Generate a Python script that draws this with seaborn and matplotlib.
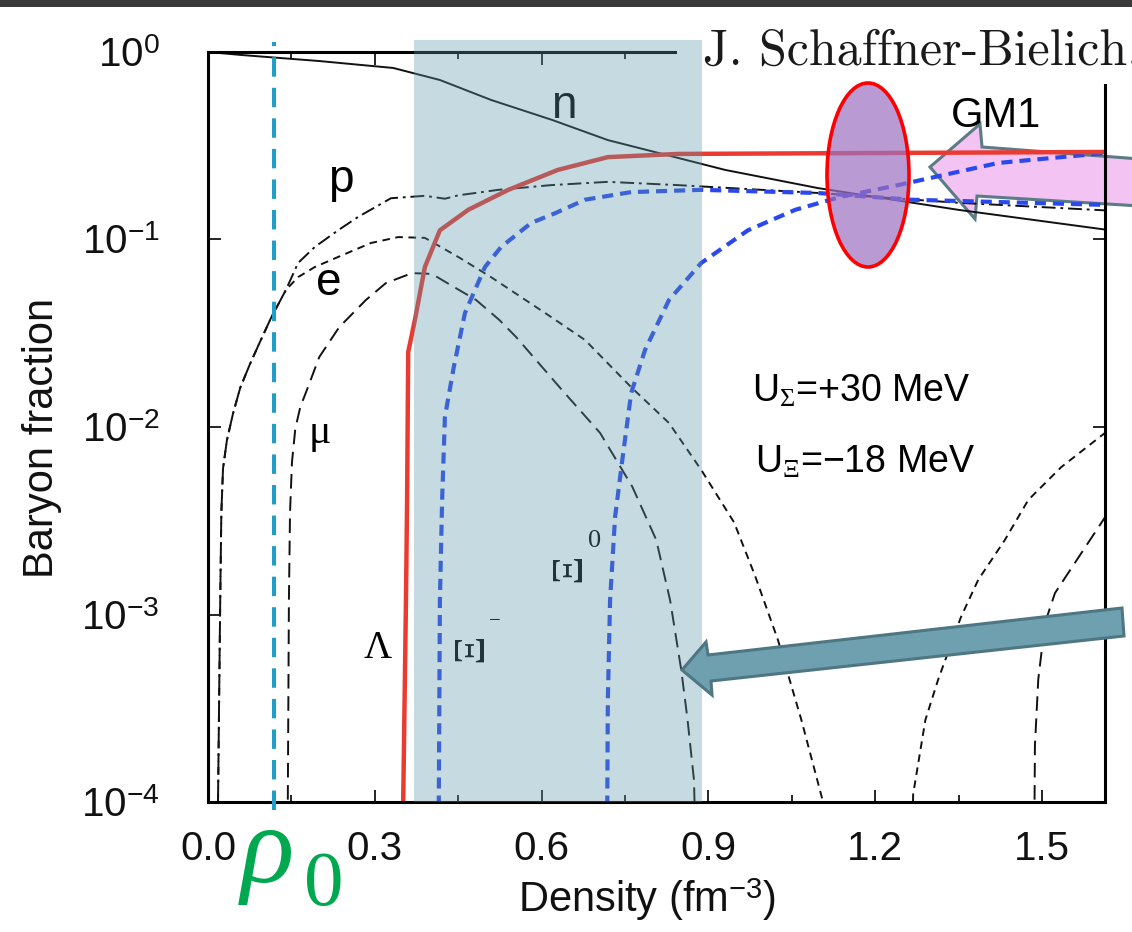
import matplotlib
matplotlib.use("Agg")
import matplotlib.pyplot as plt
import seaborn as sns
from matplotlib.patches import Rectangle, Ellipse, Polygon
from matplotlib.ticker import FixedLocator, NullLocator

# ---------------- data ----------------
x_n = [0.0, 0.06, 0.2, 0.333, 0.417, 0.509, 0.619, 0.719, 0.811, 0.93, 1.097, 1.349, 1.613]
y_n = [1.0, 0.964, 0.895, 0.822, 0.709, 0.555, 0.434, 0.339, 0.289, 0.235, 0.188, 0.144, 0.113]

x_p = [0.018, 0.018, 0.020, 0.022, 0.024, 0.027, 0.034, 0.045, 0.058, 0.075, 0.09, 0.113, 0.14,
       0.162, 0.192, 0.234, 0.27, 0.329, 0.39, 0.426, 0.45, 0.522, 0.617, 0.719, 0.845,
       1.097, 1.349, 1.613]
y_p = [1e-5, 1e-4, 3.5e-4, 1.2e-3, 3.5e-3, 6.0e-3, 8.5e-3, 0.0118, 0.0162, 0.0215, 0.027, 0.038, 0.0538,
       0.075, 0.0912, 0.112, 0.132, 0.166, 0.171, 0.165, 0.172, 0.184, 0.195, 0.203, 0.195,
       0.177, 0.157, 0.143]

x_e = [0.018, 0.018, 0.020, 0.022, 0.024, 0.027, 0.034, 0.045, 0.058, 0.075, 0.09, 0.113, 0.14,
       0.162, 0.192, 0.234, 0.293, 0.342, 0.39, 0.45, 0.509, 0.617, 0.678, 0.761, 0.829,
       0.887, 0.946, 0.984, 1.025, 1.067, 1.106, 1.11]
y_e = [1e-5, 1e-4, 3.5e-4, 1.2e-3, 3.5e-3, 6.0e-3, 8.5e-3, 0.0118, 0.0162, 0.0215, 0.027, 0.038, 0.0538,
       0.063, 0.0713, 0.0807, 0.0958, 0.103, 0.102, 0.0807, 0.063, 0.0386, 0.0291, 0.0163, 0.0105,
       0.0059, 0.0031, 1.6e-3, 7.3e-4, 2.74e-4, 1.0e-4, 1e-5]

x_e2 = [1.262, 1.268, 1.29, 1.313, 1.354, 1.385, 1.433, 1.475, 1.534, 1.613]
y_e2 = [1e-5, 1.1e-4, 2.74e-4, 4.5e-4, 9.7e-4, 1.53e-3, 2.5e-3, 4.08e-3, 6.1e-3, 9.3e-3]

x_mu = [0.1435, 0.1435, 0.1455, 0.1475, 0.151, 0.157, 0.166, 0.178, 0.2, 0.236, 0.284, 0.32,
        0.367, 0.403, 0.421, 0.482, 0.524, 0.554, 0.637, 0.705, 0.763, 0.806, 0.831, 0.851,
        0.862, 0.874, 0.882]
y_mu = [1e-5, 1e-4, 1.2e-3, 3.5e-3, 6.5e-3, 0.0098, 0.0128, 0.0158, 0.0236, 0.0341, 0.0476, 0.0586,
        0.0662, 0.0655, 0.0608, 0.0476, 0.0372, 0.0302, 0.0157, 9.3e-3, 4.8e-3, 2.5e-3, 1.19e-3,
        5.06e-4, 2.8e-4, 1.3e-4, 1e-5]

x_mu2 = [1.484, 1.487, 1.493, 1.505, 1.523, 1.543, 1.613]
y_mu2 = [1e-5, 2.0e-4, 4.5e-4, 9.0e-4, 1.3e-3, 1.6e-3, 3.3e-3]

x_lam = [0.351, 0.351, 0.356, 0.358, 0.360, 0.372, 0.390, 0.417, 0.468, 0.540, 0.629, 0.719, 0.845, 1.613]
y_lam = [1e-5, 1e-4, 1.2e-3, 4.08e-3, 0.0251, 0.0372, 0.0713, 0.112, 0.144, 0.184, 0.235, 0.275, 0.286, 0.293]

x_xim = [0.415, 0.415, 0.417, 0.421, 0.426, 0.442, 0.462, 0.498, 0.527, 0.581, 0.624, 0.678,
         0.761, 0.887, 1.097, 1.264, 1.613]
y_xim = [1e-5, 1e-4, 1.19e-3, 4.08e-3, 0.0113, 0.0209, 0.0405, 0.0713, 0.0912, 0.1225, 0.138,
         0.163, 0.179, 0.184, 0.177, 0.163, 0.153]

x_xi0 = [0.718, 0.718, 0.719, 0.723, 0.732, 0.745, 0.761, 0.786, 0.829, 0.887, 0.971, 1.056,
         1.138, 1.241, 1.421, 1.613]
y_xi0 = [1e-5, 1e-4, 3.5e-4, 1.19e-3, 3.31e-3, 6.67e-3, 0.0152, 0.0258, 0.0476, 0.075, 0.112,
         0.144, 0.169, 0.195, 0.256, 0.289]

rho0 = 0.119
shade_range = (0.3705, 0.8885)

xtick_vals = [0.0, 0.3, 0.6, 0.9, 1.2, 1.5]
xtick_labels = ["0.0", "0.3", "0.6", "0.9", "1.2", "1.5"]
xminor_vals = [0.15, 0.45, 0.75, 1.05, 1.35]
ytick_vals = [1e-4, 1e-3, 1e-2, 1e-1, 1e0]
ytick_labels = ["10$^{-4}$", "10$^{-3}$", "10$^{-2}$", "10$^{-1}$", "10$^{0}$"]

# ---------------- style ----------------
sns.set_style("ticks")
plt.rcParams['font.family'] = ['Liberation Sans', 'DejaVu Sans']
plt.rcParams['mathtext.fontset'] = 'custom'
plt.rcParams['mathtext.rm'] = 'Liberation Sans'
plt.rcParams['mathtext.it'] = 'Liberation Serif:italic'
plt.rcParams['mathtext.sf'] = 'Liberation Serif'
plt.rcParams['lines.scale_dashes'] = False
plt.rcParams['text.color'] = 'black'
plt.rcParams['axes.edgecolor'] = 'black'

W, H = 1132, 932
fig = plt.figure(figsize=(W / 100, H / 100), dpi=100)
fig.patch.set_facecolor('white')
AX_L, AX_R, AX_T, AX_B = 208, 1105, 52, 802
ax = fig.add_axes([AX_L / W, 1 - AX_B / H, (AX_R - AX_L) / W, (AX_B - AX_T) / H])


def P(x, y):
    """figure pixel -> axes fraction"""
    return ((x - AX_L) / (AX_R - AX_L), (AX_B - y) / (AX_B - AX_T))


def curve(xs, ys, **kw):
    sns.lineplot(x=xs, y=ys, ax=ax, sort=False, estimator=None, **kw)


blk = '#111111'
curve(x_n, y_n, color=blk, lw=1.4, zorder=2)
curve(x_p, y_p, color=blk, lw=1.4, linestyle=(0, (10, 3.5, 2, 3.5)), zorder=2)
curve(x_e, y_e, color=blk, lw=1.4, linestyle=(0, (5.5, 4)), zorder=2)
curve(x_e2, y_e2, color=blk, lw=1.4, linestyle=(0, (5.5, 4)), zorder=2)
curve(x_mu, y_mu, color=blk, lw=1.4, linestyle=(0, (10.5, 5.5)), zorder=2)
curve(x_mu2, y_mu2, color=blk, lw=1.4, linestyle=(0, (10.5, 5.5)), zorder=2)
curve(x_xim, y_xim, color='#2a48ee', lw=3.0, linestyle=(0, (8, 5)), zorder=2.2)
curve(x_xi0, y_xi0, color='#2a48ee', lw=3.0, linestyle=(0, (8, 5)), zorder=2.2)
curve(x_lam, y_lam, color='#ea3b30', lw=3.2, zorder=2.4)

ax.set_yscale('log')
ax.set_xlim(0, 1.613)
ax.set_ylim(1e-4, 1)

ax.xaxis.set_major_locator(FixedLocator(xtick_vals))
ax.set_xticklabels(xtick_labels)
ax.xaxis.set_minor_locator(FixedLocator(xminor_vals))
ax.yaxis.set_major_locator(FixedLocator(ytick_vals))
ax.yaxis.set_minor_locator(NullLocator())
ax.set_yticklabels(ytick_labels)
ax.tick_params(which='both', direction='in', top=True, right=True, width=1.2, color='black',
               labelcolor='#111111')
ax.tick_params(which='major', length=9)
ax.tick_params(which='minor', length=5)
ax.tick_params(axis='x', pad=20, labelsize=29)
ax.tick_params(axis='y', pad=35, labelsize=29)
for s in ax.spines.values():
    s.set_linewidth(2.2)
    s.set_color('black')

ax.set_xlabel('Density (fm$^{-3}$)', fontsize=30, color='#111111')
ax.xaxis.set_label_coords(*P(647, 912))
ax.xaxis.label.set_va('baseline')
ax.set_ylabel('Baryon fraction', fontsize=30, color='#111111')
ax.yaxis.set_label_coords(*P(62, 438))

# ---------------- labels inside ----------------
tA = dict(transform=ax.transAxes, clip_on=False)
serif = ['Liberation Serif', 'DejaVu Serif']
ax.text(*P(564, 118), 'n', ha='center', va='baseline', fontsize=33, zorder=3, **tA)
ax.text(*P(341, 192), 'p', ha='center', va='baseline', fontsize=33, zorder=3, **tA)
ax.text(*P(329, 295), 'e', ha='center', va='baseline', fontsize=33, zorder=3, **tA)
ax.text(*P(320, 443), 'μ', ha='center', va='baseline', fontsize=30, family=serif, zorder=3, **tA)
ax.text(*P(378, 658), 'Λ', ha='center', va='baseline', fontsize=28, family=serif, zorder=3, **tA)
ax.text(*P(471, 648), 'Ξ', ha='center', va='center', rotation=90, fontsize=32,
        family=serif, zorder=3, **tA)
ax.text(*P(495, 622), '−', ha='center', va='center', fontsize=15, family=serif, zorder=3, **tA)
ax.text(*P(569, 568), 'Ξ', ha='center', va='center', rotation=90, fontsize=32,
        family=serif, zorder=3, **tA)
ax.text(*P(595, 541), '0', ha='center', va='center', fontsize=19, family=serif, zorder=3, **tA)
ax.text(*P(951, 127), 'GM1', ha='left', va='baseline', fontsize=30, zorder=3, **tA)
ax.text(*P(752, 402), r'U$_{\mathsf{\Sigma}}$=+30 MeV', ha='left', va='baseline',
        fontsize=27, zorder=3, **tA)
ax.text(*P(755, 473), r'U$_{\mathsf{\Xi}}$=−18 MeV', ha='left', va='baseline',
        fontsize=27, zorder=3, **tA)

# ---------------- annotations ----------------
# pink block arrow (behind the curves)
pink_pts = [P(930, 167), P(980, 124), P(982, 147), P(1140, 159), P(1140, 206), P(977, 196), P(975, 219)]
ax.add_patch(Polygon(pink_pts, closed=True, transform=ax.transAxes, facecolor='#f3c4f3',
                     edgecolor='#5b7c86', lw=2.2, zorder=1.6, clip_on=False))

# saturation density marker
ax.axvline(rho0, ymin=P(0, 810)[1], ymax=P(0, 42)[1], color='#1f9ec8', lw=2.9,
           linestyle=(0, (14, 8)), zorder=3, clip_on=False)

# white cover box behind the author name
bx0, by0 = P(677, 84)
bx1, by1 = P(1140, 7)
ax.add_patch(Rectangle((bx0, by0), bx1 - bx0, by1 - by0, transform=ax.transAxes,
                       facecolor='white', edgecolor='none', zorder=4, clip_on=False))

# shaded density band
ax.add_patch(Rectangle((shade_range[0], 1e-4), shade_range[1] - shade_range[0], 1.16 - 1e-4,
                       facecolor=(0.37, 0.59, 0.67), alpha=0.35, edgecolor='none',
                       zorder=5, clip_on=False))

# purple ellipse
ex, ey = P(868, 175)
ax.add_patch(Ellipse((ex, ey), 82 / (AX_R - AX_L), 184 / (AX_B - AX_T), transform=ax.transAxes,
                     facecolor=(0.61, 0.44, 0.75, 0.7), edgecolor='#ff0000', lw=2.6,
                     zorder=6, clip_on=False))

# teal block arrow
teal_pts = [P(682, 670), P(706, 642), P(708, 655), P(1122, 608), P(1124, 636), P(711, 681), P(712, 695)]
ax.add_patch(Polygon(teal_pts, closed=True, transform=ax.transAxes, facecolor='#6fa0b0',
                     edgecolor='#4f7683', lw=2.2, zorder=8, clip_on=False))

# author text
ax.text(*P(703, 65), 'J. Schaffner-Bielich,', ha='left', va='baseline', fontsize=36,
        family='cmr10', color='#1a1a1a', zorder=9, **tA)

# rho_0 label
ax.text(*P(238, 882), r'$\rho$', ha='left', va='baseline', fontsize=80,
        color='#00a850', zorder=9, **tA)
ax.text(*P(304, 905), '0', ha='left', va='baseline', fontsize=57, family=serif,
        color='#00a850', zorder=9, **tA)

# dark slide frame strip at the top
fig.add_artist(Rectangle((0, 1 - 7 / H), 1, 7 / H, transform=fig.transFigure,
                         facecolor='#3a3a3a', edgecolor='none', zorder=20))

fig.savefig('out.png', dpi=100)
